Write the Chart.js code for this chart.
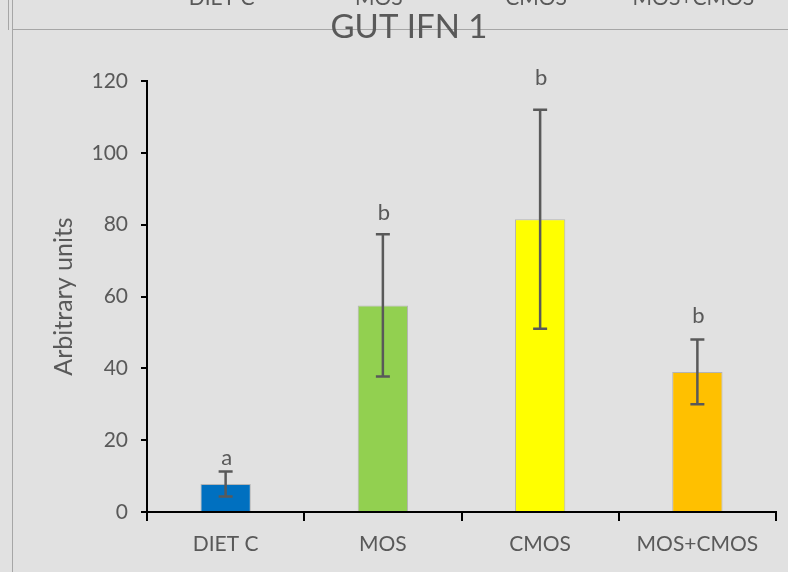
<!DOCTYPE html>
<html>
<head>
<meta charset="utf-8">
<script src="https://cdn.jsdelivr.net/npm/chart.js@4.4.0/dist/chart.umd.min.js"></script>
<style>
  html, body { margin: 0; padding: 0; background: #e1e1e1; }
  #wrap { width: 788px; height: 572px; position: relative; }
</style>
</head>
<body>
<div id="wrap"><canvas id="grafico" width="788" height="572"></canvas></div>
<script>
// datos
const categorias = ['DIET C', 'MOS', 'CMOS', 'MOS+CMOS'];
const valores = [7.8, 57.5, 81.5, 39];
const errores = [3.5, 19.8, 30.5, 9];
const letras = ['a', 'b', 'b', 'b'];
const alturaLetras = [13, 81.3, 118.9, 52.6]; // en unidades del eje y
const colores = ['#0070C0', '#92D050', '#FFFF00', '#FFC000'];
const ticksY = [0, 20, 40, 60, 80, 100, 120];
const titulo = 'GUT IFN 1';
const tituloEje = 'Arbitrary units';
// restos del grafico de arriba (cortados)
const etiquetasArriba = ['DIET C', 'MOS', 'CMOS', 'MOS+CMOS'];

const gris = '#595959';
const fuente = 'Lato, "Open Sans", sans-serif';

// marco, titulo y restos del grafico anterior
const fondo = {
    id: 'fondo',
    beforeDraw(chart) {
        const c = chart.ctx;
        c.save();
        c.fillStyle = '#e1e1e1';
        c.fillRect(0, 0, chart.width, chart.height);
        c.strokeStyle = '#a6a6a6';
        c.lineWidth = 1;
        c.beginPath();
        c.moveTo(12.5, 0); c.lineTo(12.5, chart.height);
        c.moveTo(8.5, 0); c.lineTo(8.5, 30);
        c.moveTo(12, 29.5); c.lineTo(chart.width, 29.5);
        c.stroke();
        c.fillStyle = gris;
        c.font = '21px ' + fuente;
        c.textAlign = 'center';
        c.textBaseline = 'alphabetic';
        const xs = chart.scales.x;
        etiquetasArriba.forEach((t, i) => {
            c.fillText(t, xs.getPixelForValue(i) - 4, 5);
        });
        c.font = '33px ' + fuente;
        c.fillText(titulo, 409, 38);
        c.restore();
    }
};

// barras de error y letras
const errorBars = {
    id: 'errorBars',
    afterDatasetsDraw(chart) {
        const c = chart.ctx;
        const xs = chart.scales.x, ys = chart.scales.y;
        c.save();
        c.strokeStyle = gris;
        c.lineWidth = 2.5;
        valores.forEach((v, i) => {
            const x = xs.getPixelForValue(i);
            const yTop = ys.getPixelForValue(v + errores[i]);
            const yBot = ys.getPixelForValue(v - errores[i]);
            c.beginPath();
            c.moveTo(x, yTop); c.lineTo(x, yBot);
            c.moveTo(x - 7, yTop); c.lineTo(x + 7, yTop);
            c.moveTo(x - 7, yBot); c.lineTo(x + 7, yBot);
            c.stroke();
            c.fillStyle = gris;
            c.font = '22px ' + fuente;
            c.textAlign = 'center';
            c.textBaseline = 'alphabetic';
            c.fillText(letras[i], x + 1, ys.getPixelForValue(alturaLetras[i]));
        });
        c.restore();
    }
};

new Chart(document.getElementById('grafico'), {
    type: 'bar',
    data: {
        labels: categorias,
        datasets: [{
            data: valores,
            backgroundColor: colores,
            borderColor: 'rgba(0,0,0,0.2)',
            borderWidth: 1,
            barPercentage: 0.64,
            categoryPercentage: 0.5
        }]
    },
    options: {
        responsive: false,
        animation: false,
        layout: { padding: { left: 0, top: 81, right: 12, bottom: 0 } },
        plugins: { legend: { display: false }, tooltip: { enabled: false } },
        scales: {
            x: {
                grid: { display: true, offset: true, drawOnChartArea: false, drawTicks: true, tickLength: 9, color: '#000', lineWidth: 2 },
                border: { display: true, color: '#000', width: 2 },
                ticks: { color: gris, font: { family: fuente, size: 21 }, padding: 11 },
                afterFit(scale) { scale.height = 60; }
            },
            y: {
                min: 0, max: 120,
                afterBuildTicks(scale) { scale.ticks = ticksY.map(v => ({ value: v })); },
                grid: { display: true, drawOnChartArea: false, drawTicks: true, tickLength: 6, color: '#000', lineWidth: 2 },
                border: { display: true, color: '#000', width: 2 },
                ticks: { color: gris, font: { family: fuente, size: 21 }, padding: 13 },
                title: { display: true, text: tituloEje, color: gris, font: { family: fuente, size: 25 }, padding: { top: 49, bottom: 0 } },
                afterFit(scale) { scale.width = 147; }
            }
        }
    },
    plugins: [fondo, errorBars]
});
</script>
</body>
</html>
